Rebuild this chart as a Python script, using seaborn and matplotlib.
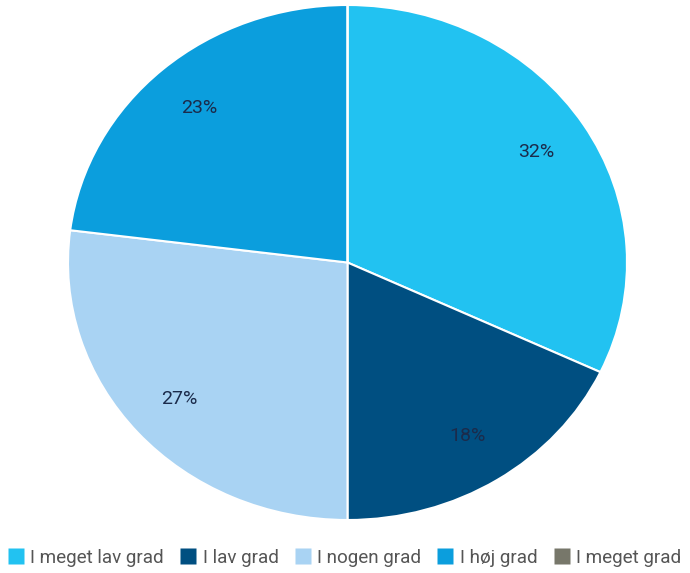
import matplotlib
matplotlib.use("Agg")
import matplotlib.pyplot as plt
from matplotlib.lines import Line2D
import seaborn as sns

categories = ["I meget lav grad", "I lav grad", "I nogen grad", "I høj grad", "I meget grad"]
shares = [32, 18, 27, 23, 0]
colors = ["#22C2F1", "#004F81", "#A9D3F3", "#0B9EDD", "#77776A"]

sns.set_theme(style="white")
plt.rcParams["font.family"] = ["Roboto", "DejaVu Sans"]
palette = sns.color_palette(colors)

W, H = 690, 573
fig = plt.figure(figsize=(W / 100, H / 100), dpi=100)
ax = fig.add_axes([68 / W, (H - 520) / H, 559 / W, 515 / H])

ax.pie(
    shares,
    colors=palette,
    startangle=90,
    counterclock=False,
    autopct=lambda p: f"{p:.0f}%" if p > 0.5 else "",
    pctdistance=0.8,
    wedgeprops=dict(edgecolor="white", linewidth=1.5),
    textprops=dict(color="#1B2B4B", fontsize=14),
)
ax.set_aspect("auto")
ax.set_xlim(-1, 1)
ax.set_ylim(-1, 1)
ax.axis("off")

handles = [
    Line2D([], [], marker="s", linestyle="none", markersize=11,
           markerfacecolor=c, markeredgecolor="none")
    for c in palette
]
fig.legend(
    handles, categories,
    loc="center", bbox_to_anchor=(0.5, (H - 558) / H),
    ncol=5, frameon=False,
    handlelength=0.75, handletextpad=0.4,
    columnspacing=0.9, fontsize=13.6, labelcolor="#555555",
)

fig.savefig("out.png", dpi=100)
